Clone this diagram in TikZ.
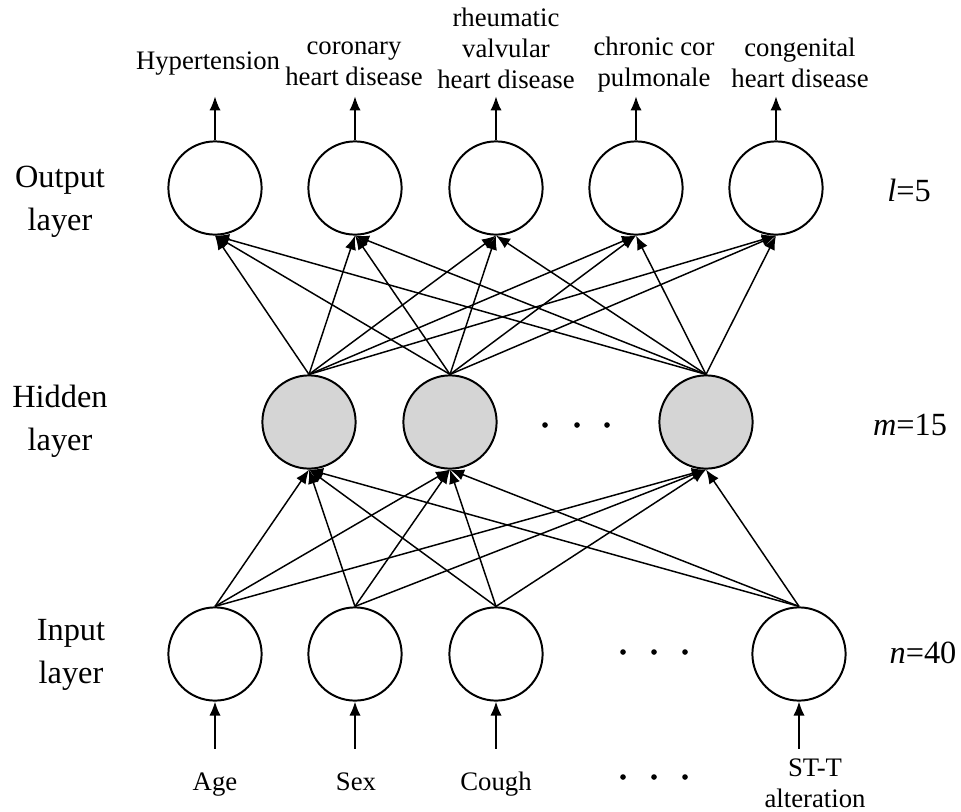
\documentclass[tikz,border=0pt]{standalone}
\usepackage{fontspec}
\setmainfont{Liberation Serif}
\usetikzlibrary{arrows.meta, positioning}

\tikzset{
  neuron/.style={circle, draw, line width=1.4pt, minimum size=2.33cm, inner sep=0pt, fill=white},
  hidneuron/.style={neuron, fill=gray!33},
  link/.style={-{Latex[length=10pt,width=8pt]}, line width=1.05pt},
  toplbl/.style={font=\fontsize{19}{22}\selectfont, align=center, inner sep=0pt},
  sidelbl/.style={font=\fontsize{23}{30.5}\selectfont, align=center, inner sep=0pt},
  dotmark/.style={fill=black}
}

\begin{document}
\begin{tikzpicture}[x=0.025cm, y=-0.025cm]
  \useasboundingbox (0,0) rectangle (961,811);

  % Output layer
  \foreach \n/\x in {1/215, 2/355, 3/496, 4/636, 5/776} {
    \node[neuron] (o\n) at (\x,188) {};
  }
  % Hidden layer
  \foreach \n/\x in {1/309, 2/450, 3/706} {
    \node[hidneuron] (h\n) at (\x,422) {};
  }
  % Input layer
  \foreach \n/\x in {1/215, 2/355, 3/496, 4/799} {
    \node[neuron] (i\n) at (\x,654) {};
  }

  % Ellipsis dots
  \foreach \x in {545, 577, 607} {
    \fill[dotmark] (\x,425) circle (2pt);
  }
  \foreach \x in {623, 654, 685} {
    \fill[dotmark] (\x,652) circle (2pt);
    \fill[dotmark] (\x,777) circle (2pt);
  }

  % Hidden -> output
  \foreach \h in {1,2,3} {
    \foreach \o in {1,...,5} {
      \draw[link] (h\h.north) -- (o\o.south);
    }
  }
  % Input -> hidden
  \foreach \i in {1,...,4} {
    \foreach \h in {1,2,3} {
      \draw[link] (i\i.north) -- (h\h.south);
    }
  }

  % Output arrows
  \foreach \o in {1,...,5} {
    \path (o\o.north) ++(0,-44) coordinate (t\o);
    \draw[link] (o\o.north) -- (t\o);
  }
  % Input arrows
  \foreach \i in {1,...,4} {
    \path (i\i.south) ++(0,47) coordinate (b\i);
    \draw[link] (b\i) -- (i\i.south);
  }

  % Output labels
  \node[toplbl] (hyp) at (208,64) {Hypertension};
  \node[toplbl] (chd) at (354,64) {coronary\\heart disease};
  \node[toplbl] (rhd) at (506,48) {rheumatic\\valvular\\heart disease};
  \node[toplbl] (ccp) at (654,65) {chronic cor\\pulmonale};
  \node[toplbl] (cong) at (800,63) {congenital\\heart disease};

  % Input labels
  \node[toplbl, anchor=base] (age) at (215,790) {Age};
  \node[toplbl, anchor=base] (sex) at (356,790) {Sex};
  \node[toplbl, anchor=base] (cough) at (496,790) {Cough};
  \node[toplbl] (stt) at (815,783) {ST-T\\alteration};

  % Layer names
  \node[sidelbl] (outlbl) at (60,202) {Output\\layer};
  \node[sidelbl] (hidlbl) at (60,421) {Hidden\\layer};
  \node[sidelbl] (inlbl) at (71,655) {Input\\layer};

  % Layer sizes
  \node[sidelbl] (lsize) at (909,190) {\textit{l}=5};
  \node[sidelbl] (msize) at (910,425) {\textit{m}=15};
  \node[sidelbl] (nsize) at (923,653) {\textit{n}=40};
\end{tikzpicture}
\end{document}
